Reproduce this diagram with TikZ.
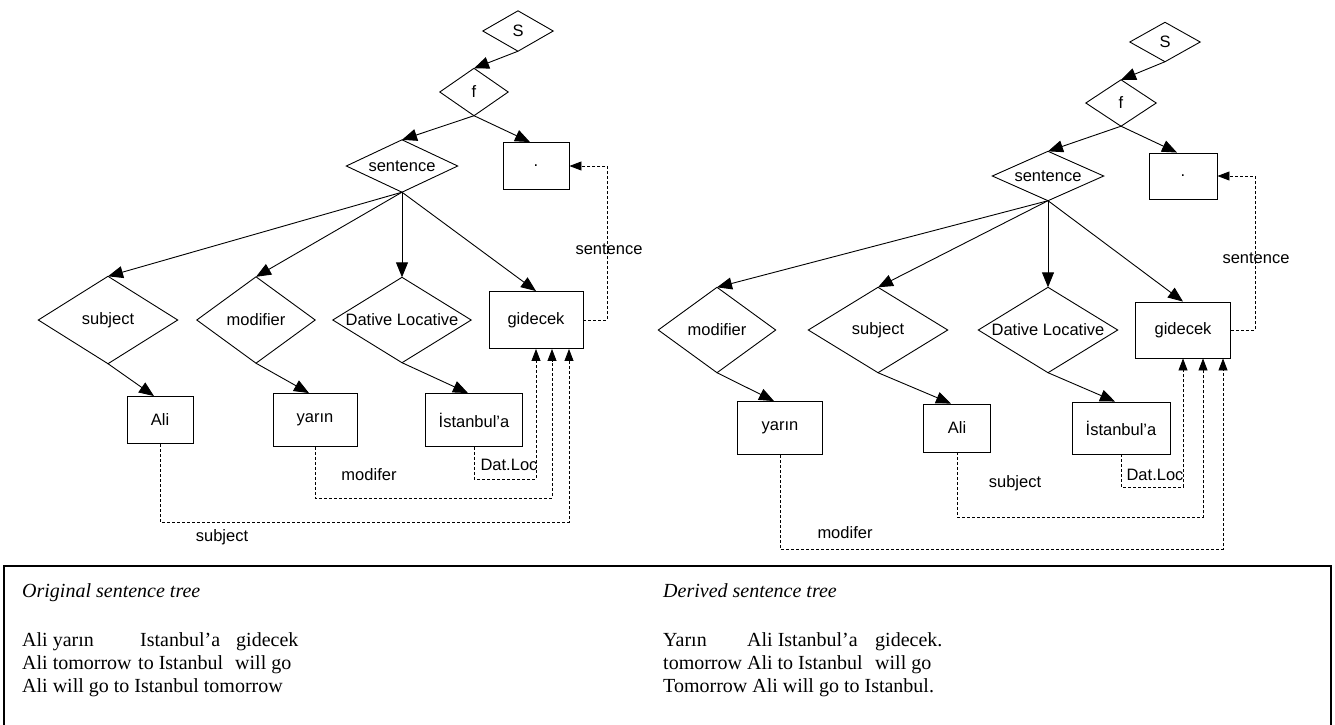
\documentclass[tikz,border=0pt]{standalone}
\usepackage{fontspec}
\setmainfont{Liberation Serif}
\newfontfamily\arialf{Liberation Sans}
\usetikzlibrary{arrows.meta}
\begin{document}
\begin{tikzpicture}[x=1pt,y=-1pt,
  lab/.style={font=\arialf\fontsize{16.5}{18}\selectfont, inner sep=0pt},
  dia/.style 2 args={lab, rectangle, minimum width=#1pt, minimum height=#2pt},
  box/.style 2 args={lab, draw, line width=0.9pt, rectangle, minimum width=#1pt, minimum height=#2pt},
  arr/.style={line width=0.9pt, -{Triangle[length=15pt,width=12pt]}},
  darr/.style={line width=0.8pt, dash pattern=on 3pt off 2pt, -{Triangle[length=12pt,width=9pt]}},
  body/.style={font=\fontsize{20}{23}\selectfont, inner sep=0pt, anchor=base west},
  bodyit/.style={font=\fontsize{20}{23}\selectfont\itshape, inner sep=0pt, anchor=base west},
]
\useasboundingbox (0,0) rectangle (1335,724);
\fill[white] (0,0) rectangle (1335,724);

% ---------- left tree ----------
\node[dia={70}{40}] (S1) at (518,31) {S};
\node[dia={68}{47}] (f1) at (474,92) {f};
\node[dia={111}{52}] (sent1) at (402,166) {sentence};
\node[box={66}{47}] (dot1) at (536,166) {.};
\node[dia={139}{87}] (subj1) at (108,320) {subject};
\node[dia={118}{86}] (mod1) at (256,320) {modifier};
\node[dia={138}{85}] (dl1) at (402,320) {Dative Locative};
\node[box={94}{57}] (gid1) at (536,320) {gidecek};
\node[box={66}{47}] (ali1) at (160,420) {Ali};
\node[box={84}{53}] (yar1) at (315,420) {yarın};
\node[box={97}{53}] (ist1) at (474,420) {İstanbul’a};

% ---------- right tree ----------
\node[dia={70}{39}] (S2) at (1165,42) {S};
\node[dia={70}{46}] (f2) at (1121,103) {f};
\node[dia={111}{49}] (sent2) at (1048,176) {sentence};
\node[box={68}{46}] (dot2) at (1183,176) {.};
\node[dia={117}{85}] (mod2) at (717,330) {modifier};
\node[dia={139}{85}] (subj2) at (878,330) {subject};
\node[dia={139}{85}] (dl2) at (1048,330) {Dative Locative};
\node[box={95}{56}] (gid2) at (1183,330) {gidecek};
\node[box={85}{53}] (yar2) at (780,428) {yarın};
\node[box={67}{48}] (ali2) at (957,428) {Ali};
\node[box={98}{52}] (ist2) at (1121,428) {İstanbul’a};

\foreach \n in {S1,f1,sent1,subj1,mod1,dl1,S2,f2,sent2,subj2,mod2,dl2}
  \draw[line width=0.9pt] (\n.north) -- (\n.east) -- (\n.south) -- (\n.west) -- cycle;

% solid arrows left
\draw[arr] (S1.south) -- (f1.north);
\draw[arr] (f1.south) -- (sent1.north);
\draw[arr] (f1.south) -- ([xshift=-6pt]dot1.north);
\draw[arr] (sent1.south) -- (subj1.north);
\draw[arr] (sent1.south) -- (mod1.north);
\draw[arr] (sent1.south) -- (dl1.north);
\draw[arr] (sent1.south) -- (gid1.north);
\draw[arr] (subj1.south) -- ([xshift=-6pt]ali1.north);
\draw[arr] (mod1.south) -- ([xshift=-6pt]yar1.north);
\draw[arr] (dl1.south) -- ([xshift=-6pt]ist1.north);

% solid arrows right
\draw[arr] (S2.south) -- (f2.north);
\draw[arr] (f2.south) -- (sent2.north);
\draw[arr] (f2.south) -- ([xshift=-6pt]dot2.north);
\draw[arr] (sent2.south) -- (mod2.north);
\draw[arr] (sent2.south) -- (subj2.north);
\draw[arr] (sent2.south) -- (dl2.north);
\draw[arr] (sent2.south) -- (gid2.north);
\draw[arr] (mod2.south) -- ([xshift=-6pt]yar2.north);
\draw[arr] (subj2.south) -- ([xshift=-6pt]ali2.north);
\draw[arr] (dl2.south) -- ([xshift=-6pt]ist2.north);

% dashed relations left
\draw[darr] (gid1.east) -- ++(24,0) |- (dot1.east);
\draw[darr] (ist1.south) -- ++(0,32) -| (gid1.south);
\draw[darr] (yar1.south) -- ++(0,51) -| ([xshift=16pt]gid1.south);
\draw[darr] (ali1.south) -- ++(0,78) -| ([xshift=33pt]gid1.south);
\node[lab] (lsent1) at (609,249) {sentence};
\node[lab] (ldat1) at (509,465) {Dat.Loc};
\node[lab] (lmod1) at (369,475) {modifer};
\node[lab] (lsub1) at (222,537) {subject};

% dashed relations right
\draw[darr] (gid2.east) -- ++(24,0) |- (dot2.east);
\draw[darr] (ist2.south) -- ++(0,33) -| (gid2.south);
\draw[darr] (ali2.south) -- ++(0,65) -| ([xshift=20pt]gid2.south);
\draw[darr] (yar2.south) -- ++(0,94) -| ([xshift=40pt]gid2.south);
\node[lab] (lsent2) at (1256,258) {sentence};
\node[lab] (ldat2) at (1155,475) {Dat.Loc};
\node[lab] (lsub2) at (1015,483) {subject};
\node[lab] (lmod2) at (845,533) {modifer};

% ---------- caption box ----------
\draw[line width=2.5pt] (4,566) rectangle (1331,745);
\node[bodyit] (t1) at (22,597) {Original sentence tree};
\node[body] (t2a) at (22,646) {Ali yarın};
\node[body] (t2b) at (140,646) {Istanbul’a};
\node[body] (t2c) at (236,646) {gidecek};
\node[body] (t3a) at (22,669) {Ali tomorrow};
\node[body] (t3b) at (138,669) {to Istanbul};
\node[body] (t3c) at (235,669) {will go};
\node[body] (t4) at (22,692) {Ali will go to Istanbul tomorrow};

\node[bodyit] (u1) at (663,597) {Derived sentence tree};
\node[body] (u2a) at (663,646) {Yarın};
\node[body] (u2b) at (747,646) {Ali Istanbul’a};
\node[body] (u2c) at (875,646) {gidecek.};
\node[body] (u3a) at (663,669) {tomorrow Ali to Istanbul};
\node[body] (u3c) at (875,669) {will go};
\node[body] (u4) at (663,692) {Tomorrow Ali will go to Istanbul.};
\end{tikzpicture}
\end{document}
